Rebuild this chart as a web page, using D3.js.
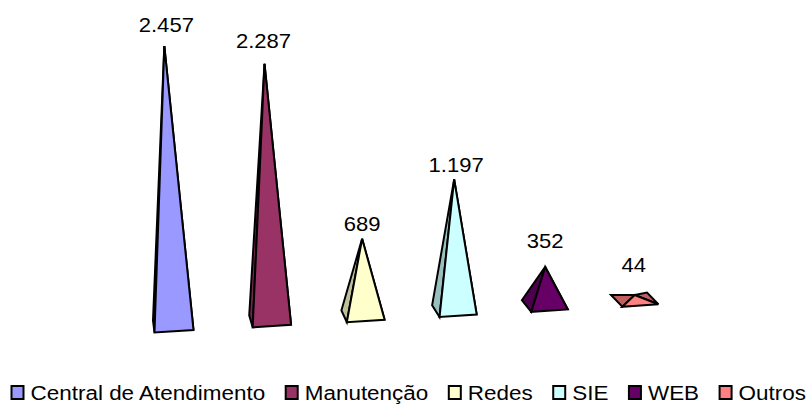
<!DOCTYPE html>
<html>
<head>
<meta charset="utf-8">
<script src="https://cdn.jsdelivr.net/npm/d3@7/dist/d3.min.js"></script>
<style>
    html, body { margin: 0; padding: 0; background: #fff; }
    text { font-family: "Liberation Sans", Arial, sans-serif; fill: #000; }
</style>
</head>
<body>
<div id="chart"></div>
<script>
// Chart data
const categories = ['Central de Atendimento', 'Manutenção', 'Redes', 'SIE', 'WEB', 'Outros'];
const values = [2457, 2287, 689, 1197, 352, 44];
const valueLabels = ['2.457', '2.287', '689', '1.197', '352', '44'];
const colors = ['#9999FF', '#993366', '#FFFFCC', '#CCFFFF', '#660066', '#FF8080'];

const width = 811;
const height = 406;
const last = categories.length - 1;

const svg = d3.select('#chart')
    .append('svg')
    .attr('width', width)
    .attr('height', height)
    .style('display', 'block');

// Fake 3D floor: everything changes a bit from the first category to the last
const frontX = d3.scalePow().exponent(0.97).domain([0, last]).range([154.5, 622.3]);
const frontY = d3.scaleLinear().domain([0, last]).range([332.5, 306.7]);
const baseWidth = d3.scaleLinear().domain([0, last]).range([39, 36]);
const baseRise = d3.scaleLinear().domain([0, last]).range([2.5, 2.4]);
const depthX = d3.scaleLinear().domain([0, last]).range([-1.5, -11.3]);
const depthY = d3.scaleLinear().domain([0, last]).range([-12, -11.7]);
const lean = d3.scaleLinear().domain([0, last]).range([-0.032, 0.018]);
const pixelsPerUnit = d3.scaleLinear().domain([0, last]).range([0.1136, 0.106]);

// Corners of one pyramid on screen
function pyramid(i) {
    const fl = [frontX(i), frontY(i)];
    const fr = [fl[0] + baseWidth(i), fl[1] - baseRise(i)];
    const bl = [fl[0] + depthX(i), fl[1] + depthY(i)];
    const br = [fr[0] + depthX(i), fr[1] + depthY(i)];
    const cx = (fl[0] + br[0]) / 2;
    const cy = (fl[1] + br[1]) / 2;
    const h = values[i] * pixelsPerUnit(i);
    const apex = [cx + h * lean(i), cy - h];
    return { fl, fr, bl, br, apex };
}

const shade = (c, k) => {
    const rgb = d3.rgb(c);
    return d3.rgb(rgb.r * k, rgb.g * k, rgb.b * k).formatHex();
};
const pathOf = pts => d3.line()(pts) + 'Z';

const bars = svg.selectAll('g.bar')
    .data(categories)
    .enter()
    .append('g')
    .attr('class', 'bar')
    .attr('stroke', '#000')
    .attr('stroke-width', 2)
    .attr('stroke-linejoin', 'miter');

// Right side face only shows when the apex is very low
bars.append('path')
    .attr('fill', (d, i) => shade(colors[i], 0.75))
    .attr('d', (d, i) => {
        const p = pyramid(i);
        return pathOf([p.apex, p.br, p.fr]);
    });

// Left side face
bars.append('path')
    .attr('fill', (d, i) => shade(colors[i], 0.75))
    .attr('d', (d, i) => {
        const p = pyramid(i);
        return pathOf([p.apex, p.bl, p.fl]);
    });

// Front face
bars.append('path')
    .attr('fill', (d, i) => colors[i])
    .attr('d', (d, i) => {
        const p = pyramid(i);
        return pathOf([p.apex, p.fl, p.fr]);
    });

// Value labels, sitting over the apex (the original text is a bit stretched sideways)
const labelGap = [14, 16, 8, 7, 19, 23];
const labelShift = [2, -1, 0, 2, 0, -1];
svg.selectAll('text.value')
    .data(valueLabels)
    .enter()
    .append('text')
    .attr('class', 'value')
    .attr('text-anchor', 'middle')
    .style('font-size', '21px')
    .attr('transform', (d, i) => {
        const apex = pyramid(i).apex;
        return `translate(${apex[0] + labelShift[i]},${apex[1] - labelGap[i]}) scale(1.05,1)`;
    })
    .text(d => d);

// Legend
const legend = svg.append('g');
const swatch = 12;
const legendStretch = 1.07;
let legendX = 11.5;
categories.forEach((name, i) => {
    legend.append('rect')
        .attr('x', legendX)
        .attr('y', 386)
        .attr('width', swatch)
        .attr('height', 13)
        .attr('fill', colors[i])
        .attr('stroke', '#000')
        .attr('stroke-width', 2);
    const label = legend.append('text')
        .attr('transform', `translate(${legendX + swatch + 7},400) scale(${legendStretch},1)`)
        .style('font-size', '21px')
        .text(name);
    legendX += swatch + 7 + label.node().getComputedTextLength() * legendStretch + 20.5;
});
</script>
</body>
</html>
